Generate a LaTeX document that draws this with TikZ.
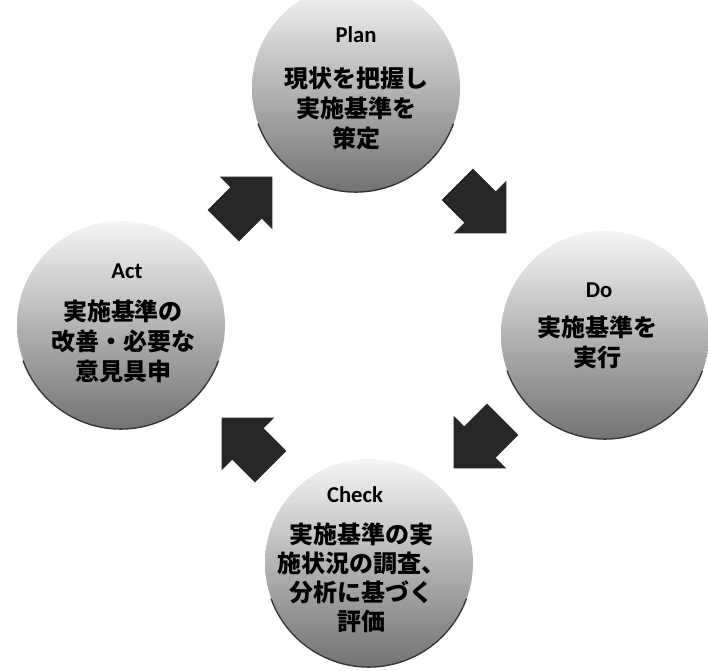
\documentclass[tikz,border=0pt]{standalone}
\usepackage{fontspec}
\newfontfamily\jpfont{Noto Sans CJK JP}
\newfontfamily\ttlfont{Carlito}
\usetikzlibrary{shapes.arrows}
\begin{document}
\begin{tikzpicture}[x=0.75pt,y=-0.75pt,
  phase/.style={circle,minimum size=156pt,inner sep=0pt,top color=black!4,bottom color=black!55,draw=none},
  rim/.style={draw=black!80,line width=1pt},
  cyc/.style={single arrow,single arrow head extend=11.25pt,single arrow tip angle=90,
    minimum height=52pt,inner xsep=0pt,inner ysep=16.5pt,fill=black!85,draw=none},
  title/.style={font=\ttlfont\bfseries\fontsize{17}{20}\selectfont,inner sep=0pt},
  body/.style={font=\jpfont\bfseries\fontsize{18}{22.5}\selectfont,align=center,inner sep=0pt}]
\useasboundingbox (0,0) rectangle (708,671);
% phases
\node[phase] (plan) at (356,88) {};
\node[phase] (act) at (121,325) {};
\node[phase] (do) at (605,335) {};
\node[phase] (check) at (369,563) {};
\foreach \n in {plan,act,do,check}
  \draw[rim] (\n.200) arc[start angle=200,end angle=340,radius=78pt];
% cycle arrows
\node[cyc,rotate=45] (a1) at (240,209) {};
\node[cyc,rotate=-45] (a2) at (474,201) {};
\node[cyc,rotate=-135] (a3) at (486,436) {};
\node[cyc,rotate=135] (a4) at (254,450) {};
% texts
\node[title] (plant) at (356,35) {Plan};
\node[body] (planb) at (356,108) {現状を把握し\\実施基準を\\策定};
\node[title] (actt) at (127,271) {Act};
\node[body] (actb) at (123,341) {実施基準の\\改善・必要な\\意見具申};
\node[title] (dot) at (599,290) {Do};
\node[body] (dob) at (597,342) {実施基準を\\実行};
\node[title] (checkt) at (355,495) {Check};
\node[body,font=\jpfont\bfseries\fontsize{18}{21.75}\selectfont] (checkb) at (361,578) {実施基準の実\\施状況の調査、\\分析に基づく\\評価};
\end{tikzpicture}
\end{document}
